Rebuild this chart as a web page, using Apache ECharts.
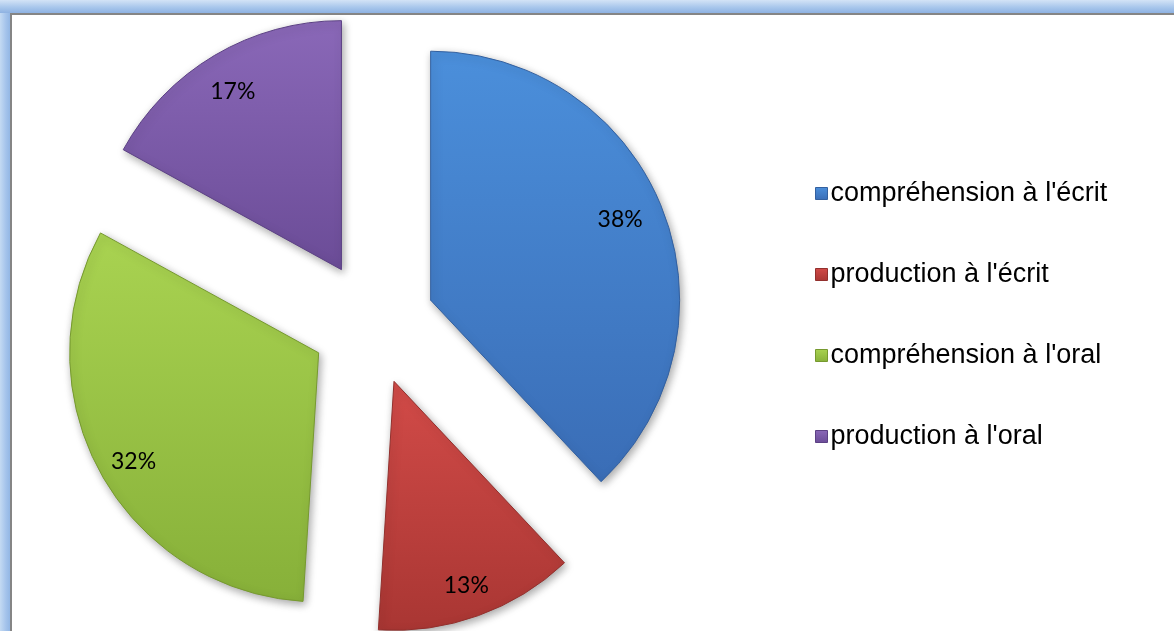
<!DOCTYPE html>
<html>
<head>
<meta charset="utf-8">
<title>Répartition des activités</title>
<script src="https://cdn.jsdelivr.net/npm/echarts@6/dist/echarts.min.js"></script>
<style>
  html, body { margin: 0; padding: 0; width: 1174px; height: 631px; overflow: hidden; background: #9fbfe8; }
  #bandTop { position: absolute; left: 0; top: 0; width: 1174px; height: 13px;
    background: linear-gradient(to bottom, #d3e3f6 0%, #a9c7ec 55%, #8eb2e2 100%); }
  #bandLeft { position: absolute; left: 0; top: 13px; width: 10px; height: 618px;
    background: linear-gradient(to right, #c4daf3 0%, #a4c3eb 60%, #93b7e5 100%); }
  #frame { position: absolute; left: 10px; top: 13px; width: 1200px; height: 700px;
    background: #ffffff; border-left: 2px solid #858585; border-top: 2px solid #858585; }
  #chart { position: absolute; left: 0; top: 0; width: 1174px; height: 631px; }
</style>
</head>
<body>
<div id="bandTop"></div>
<div id="bandLeft"></div>
<div id="frame"></div>
<div id="chart"></div>
<script>
// Categories and shares (percent), clockwise from 12 o'clock
const categories = ["compréhension à l'écrit", "production à l'écrit", "compréhension à l'oral", "production à l'oral"];
const shares = [38, 13, 32, 17];
// Fill colours: light (top) and dark (bottom) tone of each slice
const lightTones = ['#4b8fdb', '#d24b48', '#a9d351', '#8a68b8'];
const darkTones  = ['#3a6db6', '#a93633', '#87b039', '#6b4c97'];
const edgeTones  = ['#33609f', '#92302d', '#76992f', '#5c4184'];
// Horizontal padding and a blank spacer line under the text nudge each percentage label
const labelPadding = [[0, 18, 0, 0], [0, 0, 0, 0], [0, 0, 0, 4], [0, 0, 0, 0]];
const labelLift = [16, 6, 0, 0];

function fill(i) {
  return new echarts.graphic.LinearGradient(0, 0, 0, 1, [
    { offset: 0, color: lightTones[i] },
    { offset: 1, color: darkTones[i] }
  ]);
}

const center = [373, 323];
const labelCenter = [373, 329];
const outerR = 249;
const explode = 62;

const sliceData = categories.map((name, i) => ({
  name: name,
  value: shares[i],
  selected: true,
  itemStyle: {
    color: fill(i),
    borderColor: edgeTones[i],
    borderWidth: 1,
    shadowBlur: 8,
    shadowOffsetX: 2,
    shadowOffsetY: 3,
    shadowColor: 'rgba(0,0,0,0.35)'
  }
}));

// Transparent ring carrying the percentage labels near the rim
const labelData = categories.map((name, i) => ({
  name: name,
  value: shares[i],
  selected: true,
  label: {
    padding: labelPadding[i],
    formatter: labelLift[i] > 0 ? '{c}%\n{s|}' : '{c}%',
    rich: { s: { height: labelLift[i], fontSize: 1 } }
  }
}));

const chart = echarts.init(document.getElementById('chart'), null, { renderer: 'canvas' });
chart.setOption({
  backgroundColor: 'transparent',
  animation: false,
  legend: {
    orient: 'vertical',
    left: 810,
    top: 175,
    itemWidth: 12,
    itemHeight: 12,
    itemGap: 54,
    icon: 'rect',
    selectedMode: false,
    textStyle: {
      fontFamily: 'Liberation Sans, Arial, sans-serif',
      fontSize: 27,
      lineHeight: 27,
      color: '#000000',
      padding: [0, 0, 0, -2]
    },
    data: categories.map((name, i) => ({
      name: name,
      itemStyle: { color: fill(i), borderColor: edgeTones[i], borderWidth: 1 }
    }))
  },
  series: [
    {
      type: 'pie',
      center: center,
      radius: [0, outerR],
      startAngle: 90,
      clockwise: true,
      selectedMode: 'multiple',
      selectedOffset: explode,
      silent: true,
      label: { show: false },
      labelLine: { show: false },
      emphasis: { disabled: true },
      data: sliceData
    },
    {
      type: 'pie',
      center: labelCenter,
      radius: [172, outerR],
      startAngle: 90,
      clockwise: true,
      selectedMode: 'multiple',
      selectedOffset: explode,
      silent: true,
      itemStyle: { color: 'rgba(0,0,0,0)', borderWidth: 0, shadowBlur: 0 },
      label: {
        show: true,
        position: 'inside',
        fontFamily: 'Lato, "Open Sans", sans-serif',
        fontSize: 23,
        color: '#000000'
      },
      labelLine: { show: false },
      emphasis: { disabled: true },
      data: labelData
    }
  ]
});
</script>
</body>
</html>
